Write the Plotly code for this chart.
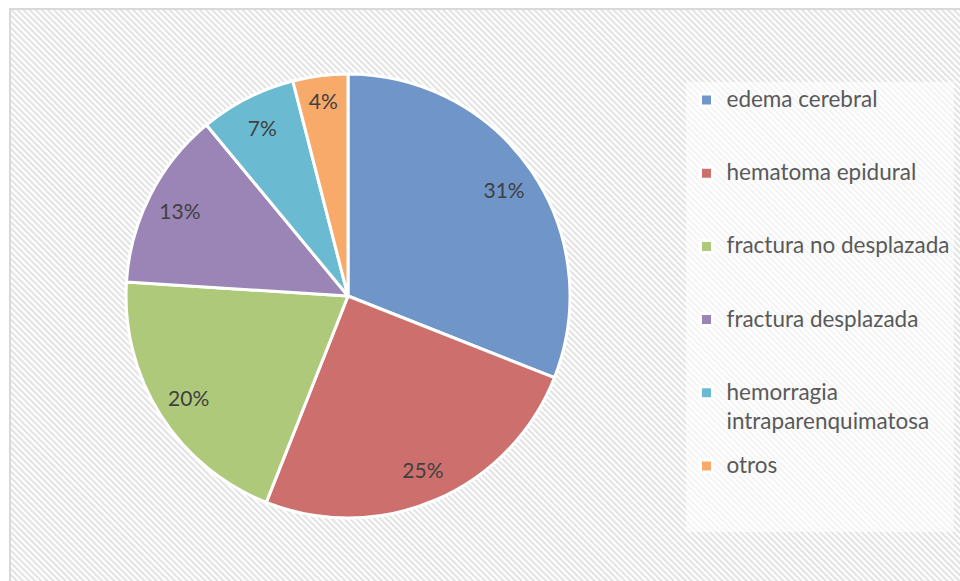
import plotly.graph_objects as go
import urllib.parse

# ---- data ----
categories = ["edema cerebral", "hematoma epidural", "fractura no desplazada",
              "fractura desplazada", "hemorragia intraparenquimatosa", "otros"]
legend_labels = ["edema cerebral", "hematoma epidural", "fractura no desplazada",
                 "fractura desplazada", "hemorragia<br>intraparenquimatosa", "otros"]
percent_values = [31, 25, 20, 13, 7, 4]
slice_colors = ["#6f95c9", "#cd706d", "#afc97b", "#9b85b7", "#6abbd1", "#f8aa6a"]

W, H = 960, 581

# legend entries padded to the same height (Excel spreads them evenly)
def legend_text(lbl):
    parts = lbl.split("<br>")
    sp = "<span style='font-size:22.5px'>"
    out = sp + parts[0] + "</span>"
    for p in parts[1:]:
        out += "<br><span style='font-size:22.5px;baseline-shift:-6px'>" + p + "</span>"
    out += "<br>&nbsp;" * (3 - len(parts))
    return out

legend_entries = [legend_text(l) for l in legend_labels]

# hatched chart-area background
svg = f"""<svg xmlns='http://www.w3.org/2000/svg' width='{W}' height='{H}'>
<defs><pattern id='p' width='4.3' height='4.3' patternUnits='userSpaceOnUse' patternTransform='rotate(-45)'>
<rect width='4.3' height='4.3' fill='#ffffff'/><rect width='2.1' height='4.3' fill='#e3e3e3'/></pattern></defs>
<rect width='{W}' height='{H}' fill='#ffffff'/>
<rect x='10' y='9' width='{W}' height='{H}' fill='url(#p)' stroke='#d9d9d9' stroke-width='2'/>
</svg>"""
bg_uri = "data:image/svg+xml;charset=utf-8," + urllib.parse.quote(svg)

cx, cy, r = 348, 296, 222
dom_x = [(cx - r) / W, (cx + r) / W]
dom_y = [(H - cy - r) / H, (H - cy + r) / H]

fig = go.Figure()
fig.add_trace(go.Pie(
    labels=legend_entries, values=percent_values, sort=False,
    direction="clockwise", rotation=0,
    marker=dict(colors=slice_colors, line=dict(color="white", width=3)),
    textinfo="none", domain=dict(x=dom_x, y=dom_y),
    hovertext=categories, hoverinfo="text+percent",
))
fig.add_trace(go.Pie(
    labels=legend_entries, values=percent_values, sort=False,
    direction="clockwise", rotation=0, hole=0.7,
    marker=dict(colors=["rgba(0,0,0,0)"] * len(percent_values), line=dict(width=0)),
    texttemplate=[f"{v}%" for v in percent_values], textposition="inside",
    insidetextorientation="horizontal",
    textfont=dict(family="Lato", size=21, color="#404040"),
    showlegend=False, hoverinfo="skip", domain=dict(x=dom_x, y=dom_y),
))

fig.update_layout(
    width=W, height=H,
    margin=dict(l=0, r=0, t=0, b=0),
    paper_bgcolor="white",
    font=dict(family="Lato", color="#595959"),
    uniformtext=dict(minsize=21, mode="show"),
    images=[dict(source=bg_uri, xref="paper", yref="paper", x=0, y=1,
                 sizex=1, sizey=1, xanchor="left", yanchor="top",
                 sizing="stretch", layer="below")],
    legend=dict(x=0.7151, y=0.8592, xanchor="left", yanchor="top",
                bgcolor="rgba(255,255,255,0.6)", valign="top",
                font=dict(family="Lato", size=18, color="#595959"),
                traceorder="normal"),
)

fig.write_html("out.html", config={"displayModeBar": False},
               post_script="document.body.style.margin='0';")
